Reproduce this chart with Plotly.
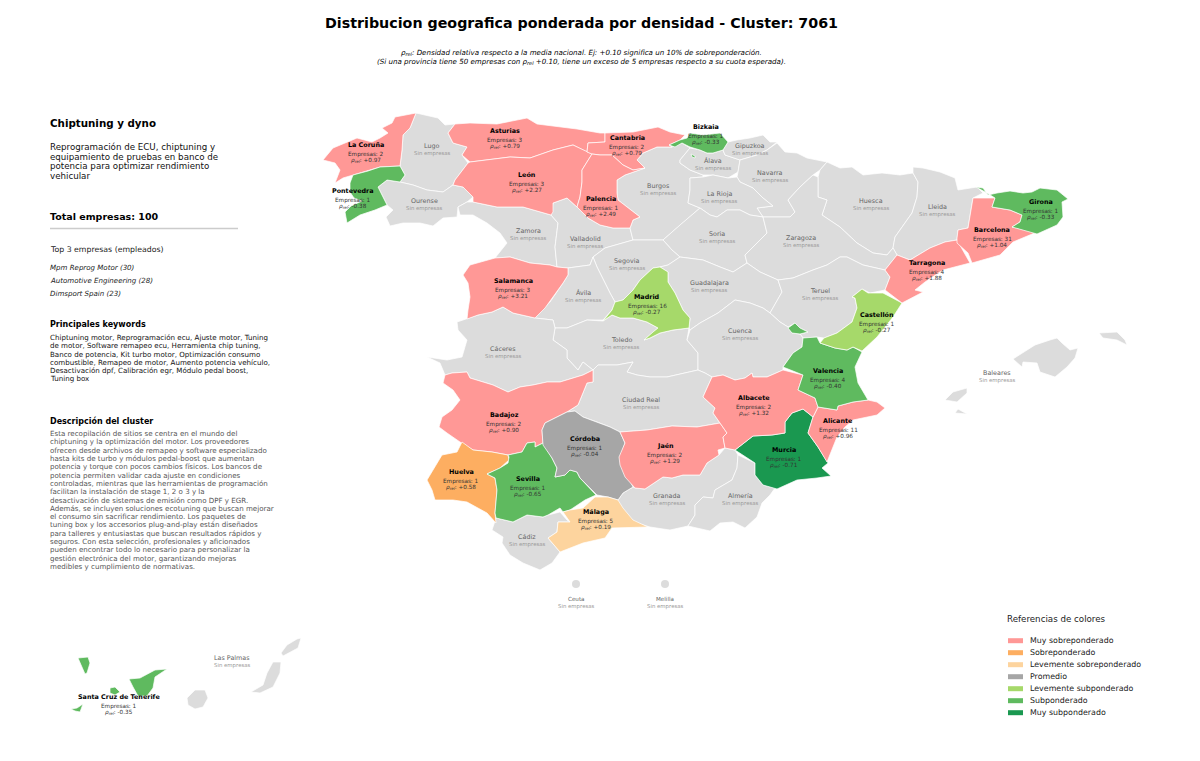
import plotly.graph_objects as go

# outlines, in the 1200x761 frame (x, y)
LA_CORUNA = [(416,113),(405,115),(395,117),(392,123),(382,128),(388,133),(380,138),(372,142),(357,138),(345,143),(333,148),(323,160),(335,163),(340,170),(335,183),(343,178),(353,175),(368,171),(380,167),(400,166),(402,150),(403,135),(410,128)]
LUGO = [(416,113),(425,115),(438,118),(445,125),(455,124),(448,133),(453,143),(467,147),(462,155),(468,163),(463,170),(455,180),(453,185),(443,192),(427,190),(413,185),(400,182),(405,175),(400,166),(402,150),(403,135),(410,128)]
PONTEVEDRA = [(400,166),(405,175),(400,182),(387,180),(378,187),(382,195),(387,205),(375,210),(360,215),(347,223),(345,212),(351,206),(362,201),(354,198),(350,192),(350,183),(353,175),(368,171),(380,167)]
OURENSE = [(378,187),(387,180),(400,182),(413,185),(427,190),(443,192),(453,185),(463,187),(473,197),(467,202),(458,207),(457,217),(443,218),(433,226),(420,223),(403,223),(390,226),(386,217),(393,210),(387,205),(382,195)]
ASTURIAS = [(448,133),(455,124),(470,123),(497,124),(527,118),(537,124),(553,126),(577,129),(600,133),(605,133),(605,142),(588,143),(587,152),(573,145),(553,150),(530,158),(510,157),(487,160),(470,162),(462,155),(467,147),(453,143)]
LEON = [(470,162),(487,160),(510,157),(530,158),(553,150),(573,145),(587,152),(592,154),(582,170),(582,182),(580,197),(577,207),(567,198),(553,203),(553,212),(551,215),(523,207),(497,207),(473,202),(473,197),(463,187),(453,185),(455,180),(463,170),(468,163)]
CANTABRIA = [(605,133),(625,132),(633,132),(658,127),(670,132),(685,135),(680,140),(669,145),(672,147),(657,147),(643,153),(637,160),(645,168),(633,170),(623,165),(612,155),(600,155),(592,154),(587,152),(588,143),(605,142)]
BIZKAIA = [(669,145),(680,140),(687,138),(690,133),(703,135),(720,133),(728,142),(723,150),(713,153),(707,153),(700,150),(690,147),(682,143),(675,147)]
BIZKAIA_ORDUNA = [(691,154),(695,156),(695,158),(692,157)]
GIPUZKOA = [(728,142),(737,140),(750,138),(763,135),(770,142),(777,142),(767,150),(757,155),(740,160),(725,155),(723,150)]
ALAVA = [(680,160),(690,148),(700,150),(707,153),(713,153),(723,150),(725,155),(740,160),(738,172),(728,178),(713,175),(703,175),(690,170),(680,163)]
NAVARRA = [(777,143),(785,152),(797,153),(807,158),(827,162),(820,170),(813,175),(800,187),(788,200),(795,212),(790,217),(763,217),(757,208),(773,206),(763,198),(753,188),(740,182),(737,177),(738,172),(740,160),(757,155),(767,150)]
LA_RIOJA = [(690,178),(703,177),(713,175),(728,178),(737,177),(740,182),(753,188),(763,198),(773,206),(757,208),(763,217),(750,215),(740,210),(727,210),(717,217),(710,215),(700,208),(688,203),(690,190)]
PALENCIA = [(600,155),(612,155),(623,165),(633,170),(645,168),(625,175),(617,180),(617,193),(618,200),(628,208),(640,217),(633,220),(630,228),(613,228),(600,225),(588,218),(577,207),(580,197),(582,182),(582,170),(592,154)]
BURGOS = [(637,160),(643,153),(657,147),(672,147),(682,143),(690,148),(680,160),(680,163),(690,170),(703,175),(703,177),(690,178),(690,190),(688,203),(700,208),(680,225),(663,240),(638,240),(633,240),(630,228),(633,220),(640,217),(628,208),(618,200),(617,193),(617,180),(625,175),(645,168)]
ZAMORA = [(458,207),(467,202),(473,202),(497,207),(523,207),(551,215),(558,223),(555,247),(557,267),(550,265),(530,263),(510,257),(495,258),(507,243),(500,233),(487,223),(473,215),(460,215)]
VALLADOLID = [(551,215),(553,203),(567,198),(577,207),(588,218),(600,225),(613,228),(630,228),(633,240),(605,248),(593,257),(590,265),(568,268),(557,267),(555,247),(558,223)]
SORIA = [(680,225),(700,208),(710,215),(717,217),(727,210),(740,210),(750,215),(763,217),(767,233),(757,243),(745,255),(747,263),(733,272),(720,267),(703,260),(680,257),(672,250),(663,240)]
SEGOVIA = [(605,248),(633,240),(663,240),(672,250),(680,257),(668,265),(660,267),(653,268),(640,280),(633,290),(623,300),(615,302),(610,293),(597,267),(593,257)]
HUESCA = [(827,162),(840,168),(852,167),(863,175),(882,173),(900,175),(913,173),(918,182),(917,197),(912,213),(895,237),(893,248),(887,255),(873,253),(857,243),(840,227),(822,215),(827,200),(818,197),(818,177),(820,170)]
LLEIDA = [(913,167),(923,168),(940,172),(955,178),(958,190),(977,187),(983,193),(973,198),(968,228),(958,230),(957,240),(945,242),(930,248),(910,260),(897,255),(893,248),(895,237),(912,213),(917,197),(918,182),(913,173)]
ZARAGOZA = [(763,217),(790,217),(795,212),(788,200),(800,187),(813,175),(818,177),(818,197),(827,200),(822,215),(840,227),(857,243),(873,253),(887,255),(893,248),(897,255),(885,270),(863,265),(847,257),(840,257),(827,265),(813,270),(793,278),(778,280),(760,272),(747,263),(745,255),(757,243),(767,233)]
GIRONA = [(976,187),(983,188),(988,195),(997,193),(1010,191),(1023,193),(1032,192),(1040,188),(1057,190),(1068,199),(1062,202),(1063,217),(1057,225),(1037,234),(1012,227),(1020,222),(1022,215),(1010,210),(992,207),(995,198),(987,193)]
BARCELONA = [(957,238),(958,230),(968,228),(973,198),(995,198),(992,207),(1010,210),(1022,215),(1020,222),(1012,227),(1037,232),(1013,242),(1000,255),(972,263),(968,253),(957,243)]
TARRAGONA = [(885,270),(897,255),(910,260),(930,248),(945,242),(957,240),(970,263),(943,270),(925,282),(915,290),(923,292),(912,298),(902,303),(885,290),(890,277)]
TERUEL = [(778,280),(793,278),(813,270),(827,265),(840,257),(847,257),(863,265),(885,270),(890,277),(885,290),(870,293),(862,289),(852,297),(855,298),(857,308),(852,322),(837,333),(824,338),(817,337),(803,338),(800,334),(808,332),(800,328),(795,323),(788,327),(780,322),(770,313),(782,292)]
GUADALAJARA = [(660,267),(668,265),(680,257),(703,260),(720,267),(733,272),(747,263),(760,272),(778,280),(782,292),(770,313),(763,308),(750,303),(735,300),(718,313),(700,323),(690,330),(689,328),(690,318),(683,310),(675,293),(668,282),(668,272)]
SALAMANCA = [(470,265),(492,259),(495,258),(510,257),(530,263),(550,265),(557,267),(568,268),(568,275),(563,283),(550,302),(545,308),(535,318),(523,315),(513,313),(503,307),(492,312),(478,315),(467,319),(468,310),(470,297),(468,283),(463,275)]
AVILA = [(568,268),(590,265),(593,257),(597,267),(610,293),(615,302),(612,310),(603,320),(587,320),(567,328),(555,328),(553,320),(535,318),(545,308),(550,302),(563,283),(568,275)]
MADRID = [(603,321),(612,310),(615,302),(623,300),(633,290),(640,280),(653,268),(660,267),(668,272),(668,282),(675,293),(683,310),(690,318),(689,328),(673,330),(660,333),(650,338),(644,340),(653,332),(658,328),(647,322),(633,318),(620,318),(612,315)]
CACERES = [(457,322),(467,319),(478,315),(492,312),(503,307),(513,313),(523,315),(535,318),(553,320),(555,328),(553,340),(567,350),(567,358),(578,370),(583,362),(593,370),(583,375),(560,382),(547,382),(533,385),(520,387),(508,392),(493,385),(470,378),(467,372),(452,373),(445,375),(440,363),(427,357),(447,360),(462,357),(467,340),(458,330)]
TOLEDO = [(555,328),(567,328),(587,320),(603,321),(612,315),(620,318),(633,318),(647,322),(658,328),(653,332),(644,340),(650,338),(660,333),(673,330),(689,328),(687,340),(698,353),(698,370),(667,377),(650,377),(637,375),(627,372),(633,362),(617,365),(598,365),(593,370),(583,362),(578,370),(567,358),(567,350),(553,340)]
CUENCA = [(690,330),(700,323),(718,313),(735,300),(750,303),(763,308),(770,313),(780,322),(788,327),(792,333),(800,334),(803,338),(802,347),(793,353),(783,367),(783,370),(767,377),(753,377),(752,373),(745,378),(735,380),(723,375),(712,377),(705,373),(698,370),(698,353),(687,340)]
VALENCIA = [(803,338),(817,337),(820,343),(835,348),(847,350),(853,347),(862,352),(855,367),(858,383),(868,400),(853,402),(838,406),(837,410),(818,407),(815,398),(798,390),(803,375),(783,367),(793,353),(802,347)]
VALENCIA_ADEMUZ = [(788,328),(795,323),(800,328),(808,332),(800,334),(792,333)]
CASTELLON = [(824,338),(837,333),(852,322),(857,308),(855,298),(852,297),(862,289),(868,293),(883,293),(902,303),(893,317),(877,337),(862,351),(853,347),(847,350),(835,348),(820,343)]
BADAJOZ = [(452,373),(467,372),(470,378),(493,385),(508,392),(520,387),(533,385),(547,382),(560,382),(583,375),(593,370),(593,382),(587,383),(583,392),(578,405),(567,412),(545,423),(542,430),(543,443),(535,447),(535,442),(527,443),(522,452),(508,455),(492,452),(473,450),(460,442),(447,433),(439,427),(442,417),(452,410),(460,400),(453,390),(443,383),(445,375)]
CIUDAD_REAL = [(593,370),(598,365),(617,365),(633,362),(627,372),(637,375),(650,377),(667,377),(698,370),(705,373),(712,377),(703,397),(715,408),(713,413),(720,423),(697,427),(672,426),(647,430),(620,432),(610,427),(597,422),(583,417),(575,411),(567,412),(578,405),(583,392),(587,383),(593,382)]
ALBACETE = [(703,397),(712,377),(723,375),(735,380),(745,378),(752,373),(753,377),(767,377),(783,370),(803,375),(798,390),(815,398),(818,407),(813,417),(803,409),(792,413),(785,422),(785,433),(772,435),(753,436),(735,450),(725,448),(723,437),(727,433),(720,423),(713,413),(715,408)]
MURCIA = [(735,450),(753,436),(772,435),(785,433),(785,422),(792,413),(803,409),(813,417),(808,433),(818,447),(828,463),(822,468),(831,476),(817,478),(797,480),(777,489),(763,485),(755,475),(755,463)]
ALICANTE = [(818,407),(837,410),(838,406),(853,402),(868,400),(877,402),(885,408),(877,415),(853,420),(845,427),(837,437),(827,462),(818,447),(808,433),(813,417)]
CORDOBA = [(567,412),(575,411),(583,417),(597,422),(610,427),(620,432),(625,443),(620,457),(623,467),(633,487),(623,493),(618,500),(608,497),(597,495),(590,488),(580,478),(577,472),(570,470),(565,475),(555,477),(557,468),(552,458),(543,445),(542,430),(545,423)]
JAEN = [(620,432),(647,430),(672,426),(697,427),(720,423),(727,433),(723,437),(725,448),(718,450),(719,455),(707,463),(700,475),(683,475),(672,478),(663,477),(645,489),(635,488),(625,477),(620,465),(619,457),(625,443)]
GRANADA = [(635,488),(645,489),(663,477),(672,478),(683,475),(700,475),(707,463),(719,455),(725,448),(735,450),(738,455),(737,468),(732,480),(715,490),(713,498),(703,497),(695,505),(695,515),(688,526),(670,530),(650,527),(633,522),(620,515),(612,497),(618,500),(623,493),(633,487)]
ALMERIA = [(738,455),(755,463),(755,475),(763,485),(775,488),(770,495),(762,503),(757,517),(745,528),(733,522),(720,523),(710,531),(688,526),(695,515),(695,505),(703,497),(713,498),(715,490),(732,480),(737,468)]
SEVILLA = [(487,474),(500,468),(508,463),(509,457),(508,455),(522,452),(527,443),(535,442),(535,447),(543,443),(552,458),(557,468),(555,477),(565,475),(570,470),(577,472),(580,478),(590,488),(596,495),(585,500),(570,510),(563,512),(560,508),(548,515),(543,517),(527,515),(513,522),(496,518),(495,513),(497,490),(495,478)]
HUELVA = [(462,442),(473,450),(492,452),(508,455),(509,460),(500,468),(487,474),(495,478),(497,490),(495,513),(496,523),(487,513),(467,502),(453,500),(435,500),(432,490),(427,480),(433,470),(442,455),(457,452)]
CADIZ = [(496,518),(513,522),(527,515),(543,517),(548,515),(560,512),(567,520),(570,522),(558,522),(557,532),(548,538),(560,552),(552,563),(540,570),(523,563),(510,555),(502,543),(503,537),(492,530)]
MALAGA = [(563,512),(570,510),(583,508),(595,497),(608,497),(618,500),(623,508),(633,520),(648,527),(627,528),(612,528),(605,538),(583,543),(560,552),(548,538),(557,532),(558,522),(570,522)]
MALLORCA = [(1013,359),(1023,353),(1035,345),(1050,340),(1057,338),(1062,343),(1070,350),(1078,348),(1075,358),(1067,367),(1055,377),(1040,372),(1037,363),(1023,362),(1022,367)]
MENORCA = [(1099,333),(1117,332),(1125,340),(1127,345),(1117,340),(1103,338)]
IBIZA = [(945,400),(953,392),(967,388),(967,393),(957,402)]
FORMENTERA = [(955,413),(958,409),(967,414),(960,413)]
LA_PALMA = [(78,658),(88,657),(90,663),(87,673),(85,674),(82,667)]
LA_GOMERA = [(110,688),(115,687),(120,692),(115,695),(110,693)]
EL_HIERRO = [(71,709),(77,708),(83,704),(80,712),(75,711)]
TENERIFE = [(129,679),(140,678),(155,670),(167,669),(155,677),(153,688),(147,696),(138,696),(133,687)]
GRAN_CANARIA = [(187,698),(195,690),(205,690),(208,698),(203,707),(195,709),(188,705)]
FUERTEVENTURA = [(251,692),(263,685),(267,673),(273,662),(281,662),(280,673),(273,687),(260,693)]
LANZAROTE = [(281,653),(287,645),(297,639),(301,638),(298,648),(288,653),(283,656)]

# provinces with companies: name, count, rho, colour class
prov_names = ["La Coruña","Pontevedra","Asturias","León","Cantabria","Bizkaia","Palencia","Salamanca","Madrid","Badajoz","Huelva","Sevilla","Córdoba","Jaén","Málaga","Murcia","Alicante","Albacete","Valencia","Castellón","Tarragona","Barcelona","Girona","Santa Cruz de Tenerife"]
prov_counts = [2,1,3,3,2,1,1,3,16,2,1,1,1,2,5,1,11,2,4,1,4,31,1,1]
prov_rho = ["+0.97","-0.38","+0.79","+2.27","+0.79","-0.33","+2.49","+3.21","-0.27","+0.90","+0.58","-0.65","-0.04","+1.29","+0.19","-0.71","+0.96","+1.32","-0.40","-0.27","+1.88","+1.04","-0.33","-0.35"]
prov_class = [0,5,0,0,0,5,0,0,4,0,1,5,3,0,2,6,0,0,5,4,0,0,5,5]
prov_shapes = [[LA_CORUNA],[PONTEVEDRA],[ASTURIAS],[LEON],[CANTABRIA],[BIZKAIA,BIZKAIA_ORDUNA],[PALENCIA],[SALAMANCA],[MADRID],[BADAJOZ],[HUELVA],[SEVILLA],[CORDOBA],[JAEN],[MALAGA],[MURCIA],[ALICANTE],[ALBACETE],[VALENCIA,VALENCIA_ADEMUZ],[CASTELLON],[TARRAGONA],[BARCELONA],[GIRONA],[LA_PALMA,LA_GOMERA,EL_HIERRO,TENERIFE]]
prov_label_xy = [(366,145),(353,191),(505,131),(527,175),(627,138),(706,127),(601,199),(513,281),(647,297),(504,415),(461,472),(528,479),(585,439),(665,446),(596,512),(784,450),(838,421),(754,398),(828,371),(877,315),(927,263),(992,230),(1041,202),(119,697)]

empty_names = ["Lugo","Ourense","Zamora","Valladolid","Burgos","Álava","Gipuzkoa","Navarra","La Rioja","Huesca","Lleida","Soria","Zaragoza","Segovia","Guadalajara","Teruel","Ávila","Toledo","Cáceres","Cuenca","Ciudad Real","Granada","Almería","Cádiz","Baleares","Las Palmas"]
empty_shapes = [[LUGO],[OURENSE],[ZAMORA],[VALLADOLID],[BURGOS],[ALAVA],[GIPUZKOA],[NAVARRA],[LA_RIOJA],[HUESCA],[LLEIDA],[SORIA],[ZARAGOZA],[SEGOVIA],[GUADALAJARA],[TERUEL],[AVILA],[TOLEDO],[CACERES],[CUENCA],[CIUDAD_REAL],[GRANADA],[ALMERIA],[CADIZ],[MALLORCA,MENORCA,IBIZA,FORMENTERA],[GRAN_CANARIA,FUERTEVENTURA,LANZAROTE]]
empty_label_xy = [(432,146),(424,201),(528,231),(585,239),(658,186),(713,161),(750,146),(770,173),(719,194),(871,201),(937,207),(717,234),(801,238),(627,261),(709,283),(820,291),(583,293),(621,340),(503,349),(740,331),(641,400),(667,496),(740,496),(527,537),(997,373),(232,658)]

city_names = ["Ceuta","Melilla"]
city_xy = [(576,584),(665,584)]
city_label_xy = [(576,599),(665,599)]

class_names = ["Muy sobreponderado","Sobreponderado","Levemente sobreponderado","Promedio","Levemente subponderado","Subponderado","Muy subponderado"]
class_colors = ["#FF9896","#FDAE61","#FDD49E","#A6A6A6","#A6D96A","#5FBA5F","#1A9850"]
EMPTY_COLOR = "#DCDCDC"

title_text = "Distribucion geografica ponderada por densidad - Cluster: 7061"
RHO = "ρ<sub>rel</sub>"
note_lines = [RHO + ": Densidad relativa respecto a la media nacional. Ej: +0.10 significa un 10% de sobreponderación.",
              "(Si una provincia tiene 50 empresas con " + RHO + " +0.10, tiene un exceso de 5 empresas respecto a su cuota esperada)."]
summary_lines = ["Reprogramación de ECU, chiptuning y","equipamiento de pruebas en banco de","potencia para optimizar rendimiento","vehicular"]
top_companies = ["Mpm Reprog Motor (30)","Automotive Engineering (28)","Dimsport Spain (23)"]
keyword_lines = ["Chiptuning motor, Reprogramación ecu, Ajuste motor, Tuning","de motor, Software remapeo ecu, Herramienta chip tuning,","Banco de potencia, Kit turbo motor, Optimización consumo","combustible, Remapeo de motor, Aumento potencia vehículo,","Desactivación dpf, Calibración egr, Módulo pedal boost,","Tuning box"]
description_lines = ["Esta recopilación de sitios se centra en el mundo del","chiptuning y la optimización del motor. Los proveedores","ofrecen desde archivos de remapeo y software especializado","hasta kits de turbo y módulos pedal-boost que aumentan","potencia y torque con pocos cambios físicos. Los bancos de","potencia permiten validar cada ajuste en condiciones","controladas, mientras que las herramientas de programación","facilitan la instalación de stage 1, 2 o 3 y la","desactivación de sistemas de emisión como DPF y EGR.","Además, se incluyen soluciones ecotuning que buscan mejorar","el consumo sin sacrificar rendimiento. Los paquetes de","tuning box y los accesorios plug-and-play están diseñados","para talleres y entusiastas que buscan resultados rápidos y","seguros. Con esta selección, profesionales y aficionados","pueden encontrar todo lo necesario para personalizar la","gestión electrónica del motor, garantizando mejoras","medibles y cumplimiento de normativas."]

FONT = "DejaVu Sans"
LEFT_X = 48  # annotations pad their text by about 2px
fig = go.Figure()


def outline(polys):
    xs, ys = [], []
    for poly in polys:
        xs += [p[0] for p in poly] + [poly[0][0], None]
        ys += [p[1] for p in poly] + [poly[0][1], None]
    return xs, ys


def add_region(name, polys, color):
    xs, ys = outline(polys)
    fig.add_trace(go.Scatter(x=xs, y=ys, mode="lines", fill="toself", fillcolor=color,
                             line=dict(color="white", width=0.7), name=name,
                             hoverinfo="name", showlegend=False))


def label(x, y, text, size, color="#000000", anchor="center"):
    fig.add_annotation(x=x, y=y, text=text, showarrow=False, xanchor=anchor, yanchor="middle",
                       font=dict(family=FONT, size=size, color=color))


for name, polys in zip(empty_names, empty_shapes):
    add_region(name, polys, EMPTY_COLOR)
for name, polys, cls in zip(prov_names, prov_shapes, prov_class):
    add_region(name, polys, class_colors[cls])

fig.add_trace(go.Scatter(x=[p[0] for p in city_xy], y=[p[1] for p in city_xy], mode="markers",
                         marker=dict(size=8, color=EMPTY_COLOR), text=city_names,
                         hoverinfo="text", showlegend=False))

for name, n, rho, (x, y) in zip(prov_names, prov_counts, prov_rho, prov_label_xy):
    label(x, y, f"<b>{name}</b>", 6.4)
    label(x, y + 9, f"Empresas: {n}", 5.7, "#333333")
    label(x, y + 15, f"<i>ρ<sub>rel</sub></i>: {rho}", 5.7, "#333333")

for name, (x, y) in zip(empty_names + city_names, empty_label_xy + city_label_xy):
    size = 5.6 if name in city_names else 6.4
    label(x, y, name, size, "#666666")
    label(x, y + 7.5, "Sin empresas", 5.4, "#999999")

# header
label(581, 23, f"<b>{title_text}</b>", 14.25)
label(581, 52, f"<i>{note_lines[0]}</i>", 7.1)
label(581, 61, f"<i>{note_lines[1]}</i>", 7.1)

# left column
label(LEFT_X, 123, "<b>Chiptuning y dyno</b>", 10.3, anchor="left")
for i, line in enumerate(summary_lines):
    label(LEFT_X, 147 + i * 9.5, line, 8.7, "#111111", anchor="left")
label(LEFT_X, 216.5, "<b>Total empresas: 100</b>", 9.5, anchor="left")
fig.add_shape(type="line", x0=50, x1=238, y0=228.5, y1=228.5, line=dict(color="#CCCCCC", width=1.5))
label(LEFT_X, 249, "Top 3 empresas (empleados)", 7.8, "#222222", anchor="left")
for i, line in enumerate(top_companies):
    label(LEFT_X, 267 + i * 13.3, f"<i>{line}</i>", 7.05, "#222222", anchor="left")
label(LEFT_X, 324, "<b>Principales keywords</b>", 8, anchor="left")
for i, line in enumerate(keyword_lines):
    label(LEFT_X, 337.5 + i * 8.25, line, 7.1, "#111111", anchor="left")
label(LEFT_X, 421, "<b>Descripción del cluster</b>", 8, anchor="left")
for i, line in enumerate(description_lines):
    label(LEFT_X, 433.7 + i * 8.29, line, 7.1, "#555555", anchor="left")

# colour key
label(1005, 619, "Referencias de colores", 8.7, "#222222", anchor="left")
for i, (name, color) in enumerate(zip(class_names, class_colors)):
    y = 640.7 + i * 12
    fig.add_shape(type="rect", x0=1008, x1=1023, y0=y - 2.5, y1=y + 2.5, fillcolor=color, line_width=0)
    label(1028, y, name, 7.9, "#222222", anchor="left")

fig.update_layout(
    width=1200, height=761, margin=dict(l=0, r=0, t=0, b=0),
    paper_bgcolor="white", plot_bgcolor="white", showlegend=False,
    xaxis=dict(range=[0, 1200], visible=False, fixedrange=True),
    yaxis=dict(range=[761, 0], visible=False, fixedrange=True),
)

# page margin would push the figure 8px off
fig.write_html("out.html", config={"displayModeBar": False},
               post_script="document.body.style.margin='0';")
